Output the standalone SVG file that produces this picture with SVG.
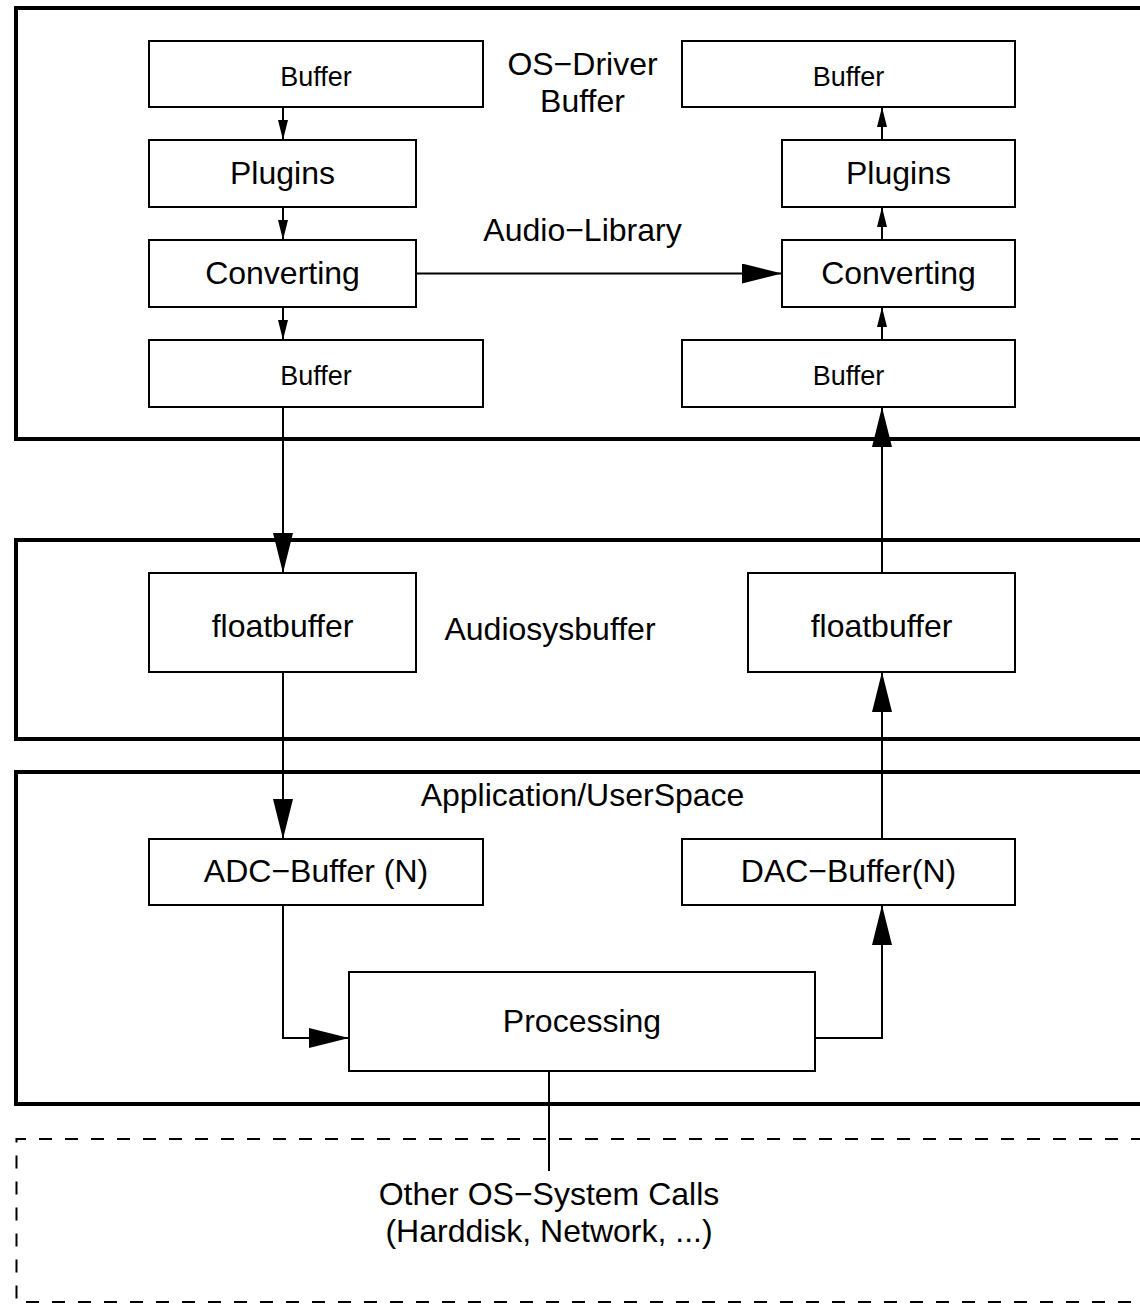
<svg xmlns="http://www.w3.org/2000/svg" width="1140" height="1304" viewBox="0 0 1140 1304">
  <style>
    .layer { fill: none; stroke: #000; stroke-width: 4; }
    .ext { fill: none; stroke: #000; stroke-width: 2; stroke-dasharray: 13 13; }
    .box { fill: #fff; stroke: #000; stroke-width: 2; }
    .wire { fill: none; stroke: #000; stroke-width: 2; }
    text { font-family: "Liberation Sans", Arial, Helvetica, sans-serif; fill: #000; text-anchor: middle; }
    .s { font-size: 27px; }
    .m { font-size: 32px; }
  </style>
  <defs>
    <marker id="headSmall" viewBox="0 0 20 10" refX="20" refY="5" markerWidth="20" markerHeight="10" markerUnits="userSpaceOnUse" orient="auto">
      <path d="M0,0 L20,5 L0,10 Z" fill="#000"/>
    </marker>
    <marker id="headBig" viewBox="0 0 40 20" refX="40" refY="10" markerWidth="40" markerHeight="20" markerUnits="userSpaceOnUse" orient="auto">
      <path d="M0,0 L40,10 L0,20 Z" fill="#000"/>
    </marker>
  </defs>

  <rect width="1140" height="1304" fill="#fff"/>

  <!-- layer frames (open to the right) -->
  <g id="layers">
    <path class="layer" d="M1144,8 H16 V439 H1144"/>
    <path class="layer" d="M1144,540 H16 V739 H1144"/>
    <path class="layer" d="M1144,772 H16 V1104 H1144"/>
    <path class="ext" d="M1144,1139 H16.5 V1302 H1144"/>
  </g>

  <!-- layer labels -->
  <g id="labels">
    <text class="m" x="582.5" y="74.5">OS−Driver</text>
    <text class="m" x="582.5" y="111.5">Buffer</text>
    <text class="m" x="582.5" y="240.5">Audio−Library</text>
    <text class="m" x="550" y="640">Audiosysbuffer</text>
    <text class="m" x="582.5" y="806">Application/UserSpace</text>
    <text class="m" x="549" y="1205">Other OS−System Calls</text>
    <text class="m" x="549" y="1242">(Harddisk, Network, ...)</text>
  </g>

  <!-- connectors -->
  <g id="connectors">
    <line class="wire" x1="283" y1="107" x2="283" y2="140" marker-end="url(#headSmall)"/>
    <line class="wire" x1="283" y1="207" x2="283" y2="240" marker-end="url(#headSmall)"/>
    <line class="wire" x1="283" y1="307" x2="283" y2="340" marker-end="url(#headSmall)"/>
    <line class="wire" x1="882" y1="140" x2="882" y2="107" marker-end="url(#headSmall)"/>
    <line class="wire" x1="882" y1="240" x2="882" y2="207" marker-end="url(#headSmall)"/>
    <line class="wire" x1="882" y1="340" x2="882" y2="307" marker-end="url(#headSmall)"/>
    <line class="wire" x1="416" y1="273.5" x2="782" y2="273.5" marker-end="url(#headBig)"/>
    <line class="wire" x1="283" y1="407" x2="283" y2="573" marker-end="url(#headBig)"/>
    <line class="wire" x1="283" y1="672" x2="283" y2="839" marker-end="url(#headBig)"/>
    <line class="wire" x1="882" y1="573" x2="882" y2="407" marker-end="url(#headBig)"/>
    <line class="wire" x1="882" y1="839" x2="882" y2="672" marker-end="url(#headBig)"/>
    <polyline class="wire" points="283,905 283,1038 349,1038" marker-end="url(#headBig)"/>
    <polyline class="wire" points="815,1038 882,1038 882,905" marker-end="url(#headBig)"/>
    <line class="wire" x1="549" y1="1071" x2="549" y2="1171"/>
  </g>

  <!-- driver layer, capture side -->
  <g id="in-buffer-top">
    <rect class="box" x="149" y="41" width="334" height="66"/>
    <text class="s" x="316" y="86">Buffer</text>
  </g>
  <g id="in-plugins">
    <rect class="box" x="149" y="140" width="267" height="67"/>
    <text class="m" x="282.5" y="184">Plugins</text>
  </g>
  <g id="in-converting">
    <rect class="box" x="149" y="240" width="267" height="67"/>
    <text class="m" x="282.5" y="284">Converting</text>
  </g>
  <g id="in-buffer-bottom">
    <rect class="box" x="149" y="340" width="334" height="67"/>
    <text class="s" x="316" y="385">Buffer</text>
  </g>

  <!-- driver layer, playback side -->
  <g id="out-buffer-top">
    <rect class="box" x="682" y="41" width="333" height="66"/>
    <text class="s" x="848.5" y="86">Buffer</text>
  </g>
  <g id="out-plugins">
    <rect class="box" x="782" y="140" width="233" height="67"/>
    <text class="m" x="898.5" y="184">Plugins</text>
  </g>
  <g id="out-converting">
    <rect class="box" x="782" y="240" width="233" height="67"/>
    <text class="m" x="898.5" y="284">Converting</text>
  </g>
  <g id="out-buffer-bottom">
    <rect class="box" x="682" y="340" width="333" height="67"/>
    <text class="s" x="848.5" y="385">Buffer</text>
  </g>

  <!-- audio system buffers -->
  <g id="in-floatbuffer">
    <rect class="box" x="149" y="573" width="267" height="99"/>
    <text class="m" x="282.5" y="636.5">floatbuffer</text>
  </g>
  <g id="out-floatbuffer">
    <rect class="box" x="748" y="573" width="267" height="99"/>
    <text class="m" x="881.5" y="636.5">floatbuffer</text>
  </g>

  <!-- application -->
  <g id="adc-buffer">
    <rect class="box" x="149" y="839" width="334" height="66"/>
    <text class="m" x="316" y="882">ADC−Buffer (N)</text>
  </g>
  <g id="dac-buffer">
    <rect class="box" x="682" y="839" width="333" height="66"/>
    <text class="m" x="848.5" y="882">DAC−Buffer(N)</text>
  </g>
  <g id="processing">
    <rect class="box" x="349" y="972" width="466" height="99"/>
    <text class="m" x="582" y="1032">Processing</text>
  </g>
</svg>
